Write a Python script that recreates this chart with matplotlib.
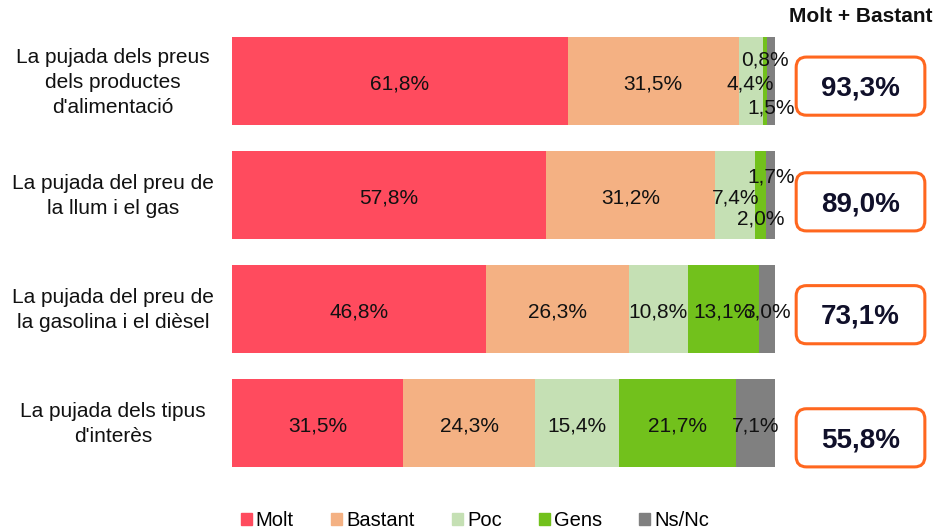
import numpy as np
import matplotlib.pyplot as plt
from matplotlib.patches import FancyBboxPatch, Patch

plt.rcParams['font.family'] = ['Liberation Sans', 'DejaVu Sans']

categories = ["La pujada dels preus\ndels productes\nd'alimentació",
              "La pujada del preu de\nla llum i el gas",
              "La pujada del preu de\nla gasolina i el dièsel",
              "La pujada dels tipus\nd'interès"]
series = ['Molt', 'Bastant', 'Poc', 'Gens', 'Ns/Nc']
molt = [61.8, 57.8, 46.8, 31.5]
bastant = [31.5, 31.2, 26.3, 24.3]
poc = [4.4, 7.4, 10.8, 15.4]
gens = [0.8, 2.0, 13.1, 21.7]
nsnc = [1.5, 1.7, 3.0, 7.1]

colors = ['#FF4B5E', '#F4B183', '#C5E0B4', '#72C11C', '#808080']
box_edge = '#FF671F'

def pct(v):
    return f"{v:.1f}".replace('.', ',') + '%'

# vertical shift (pixels) for labels of the thin segments
label_shift = {(0, 3): 24, (0, 4): -24, (1, 4): 21, (1, 3): -21}
box_shift = [0.045, 0.06, 0.05, 0.13]

fig = plt.figure(figsize=(9.35, 5.3), dpi=100)
ax = fig.add_axes([232 / 935, 50 / 530, 543 / 935, 456 / 530])

data = np.array([molt, bastant, poc, gens, nsnc])
y = np.arange(len(categories))
left = np.zeros(len(categories))
for s, (name, vals) in enumerate(zip(series, data)):
    ax.barh(y, vals, left=left, height=0.77, color=colors[s], label=name)
    for i, v in enumerate(vals):
        ax.annotate(pct(v), (left[i] + v / 2, y[i]), xytext=(0, label_shift.get((i, s), 0) - 3),
                    textcoords='offset pixels', ha='center', va='center',
                    fontsize=15, color='#111111', annotation_clip=False)
    left += vals

ax.set_xlim(0, 100)
ax.set_ylim(len(categories) - 0.5, -0.5)
ax.axis('off')

for i, cat in enumerate(categories):
    ax.text(-21.9, y[i] + 0.01, cat, ha='center', va='center', multialignment='center',
            fontsize=15, color='#111111', linespacing=1.4)

# Molt + Bastant totals
totals = np.array(molt) + np.array(bastant)
bx0, bx1, bh = 103.9, 127.6, 0.51
xpx = 543 / 100
ypx = 456 / 4
for i, t in enumerate(totals):
    yc = y[i] + box_shift[i]
    box = FancyBboxPatch((bx0, yc - bh / 2), bx1 - bx0, bh,
                         boxstyle='round,pad=0,rounding_size=1.9',
                         mutation_aspect=xpx / ypx,
                         facecolor='white', edgecolor=box_edge, linewidth=2.2,
                         clip_on=False)
    ax.add_patch(box)
    ax.text((bx0 + bx1) / 2, yc + 0.02, pct(t), ha='center', va='center',
            fontsize=20, fontweight='bold', color='#10102A')

ax.text((bx0 + bx1) / 2, -0.5 - 7 / ypx, 'Molt + Bastant', ha='center', va='center',
        fontsize=15, fontweight='bold', color='#111111')

handles = [Patch(color=c, label=n) for c, n in zip(colors, series)]
fig.legend(handles=handles, loc='center', bbox_to_anchor=(475 / 935, 9 / 530),
           ncol=5, frameon=False, fontsize=14.5, handlelength=0.55, handleheight=0.55,
           handletextpad=0.2, columnspacing=1.85)

fig.savefig('out.png', dpi=100)
